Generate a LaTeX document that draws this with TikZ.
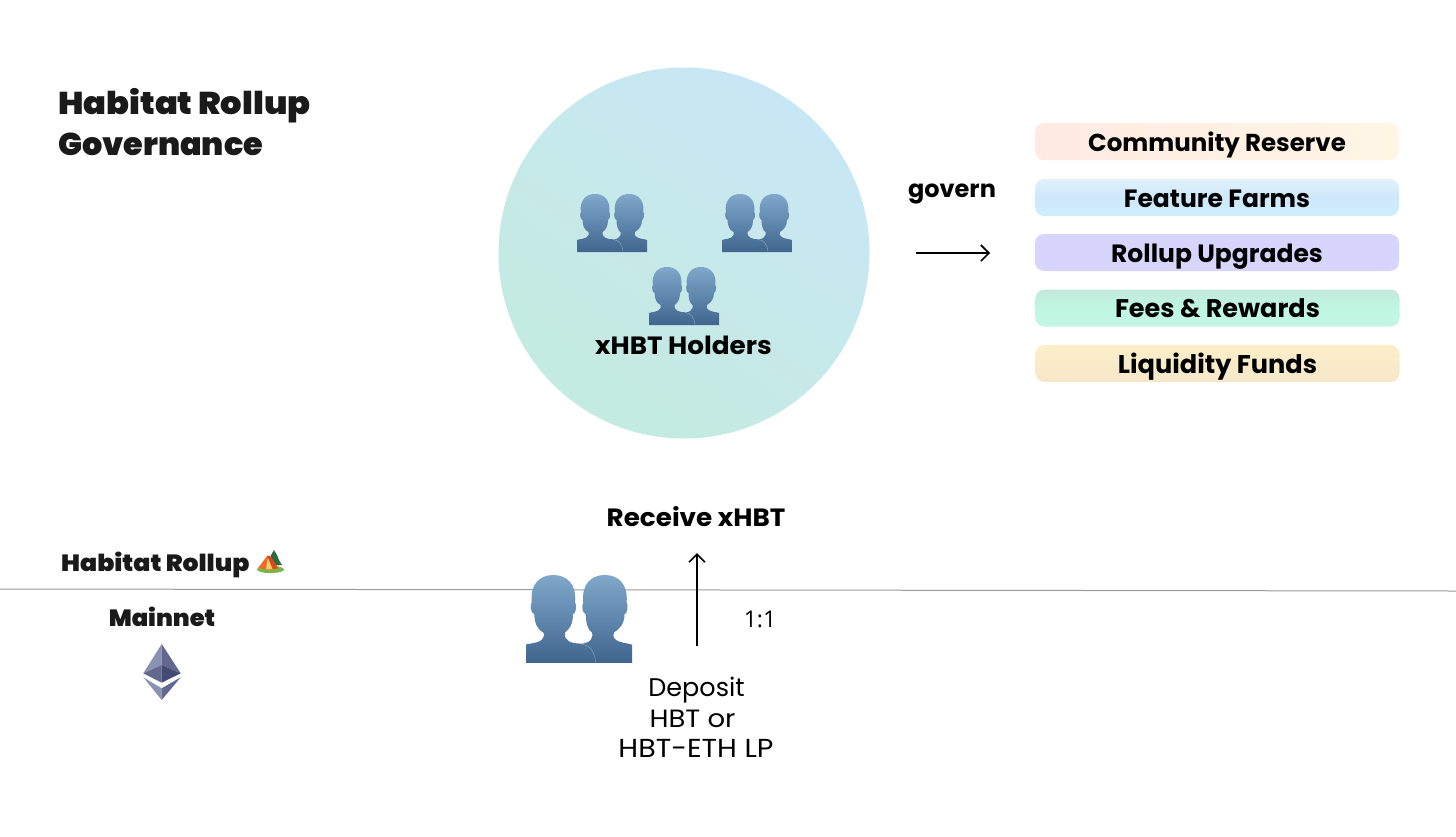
\documentclass[tikz,border=0pt]{standalone}
\usepackage{fontspec}
\usetikzlibrary{arrows.meta}
\setmainfont{Poppins}
\newfontfamily\blkA{Poppins Black}[FakeStretch=1.07]
\newfontfamily\blkB{Poppins Black}[FakeStretch=1.01]
\newfontfamily\blkC{Poppins Black}[FakeStretch=1.03]
\newfontfamily\bld{Poppins}[UprightFont=* Bold]
\newfontfamily\bldw{Poppins}[UprightFont=* Bold,FakeStretch=1.05]
\newfontfamily\reg{Poppins}
\newfontfamily\regw{Poppins}[FakeStretch=1.1]
\newfontfamily\regn{Open Sans}
\definecolor{ink}{HTML}{1A1A1A}
\definecolor{iconTop}{HTML}{7FA8CA}
\definecolor{iconBot}{HTML}{40658E}
\definecolor{c1}{HTML}{C8E7F5}
\definecolor{c2}{HTML}{C4EBDF}
\definecolor{p1a}{HTML}{FFEAE1}
\definecolor{p1b}{HTML}{FFF6E6}
\definecolor{p2a}{HTML}{DFF2FA}
\definecolor{p2m}{HTML}{CEE7FC}
\definecolor{p2b}{HTML}{CDEFFD}
\definecolor{p3}{HTML}{D8D5FC}
\definecolor{p4a}{HTML}{C4E8DB}
\definecolor{p4m}{HTML}{BFF7E3}
\definecolor{p4b}{HTML}{C2F5E3}
\definecolor{p5a}{HTML}{FBEEC8}
\definecolor{p5b}{HTML}{F6E8C9}
\definecolor{linegray}{HTML}{9A9A9A}
\definecolor{tentGreen}{HTML}{7DB446}
\definecolor{treeDark}{HTML}{2F6B3A}
\definecolor{tentOrange}{HTML}{EE6A2C}
\definecolor{tentRed}{HTML}{D9481F}
\definecolor{tentYellow}{HTML}{F6D06A}
\definecolor{eth1}{HTML}{8A92B2}
\definecolor{eth2}{HTML}{62688F}
\definecolor{eth3}{HTML}{454A75}
\tikzset{
  x=1pt,y=-1pt,
  people/.pic={
    \shade[top color=iconTop,bottom color=iconBot]
      (0,58)--(0,46) .. controls (1,45) and (10,45.5) .. (11.5,41)
      .. controls (12,40) and (12,39) .. (11.5,38) .. controls (8,36.5) and (5.5,32) .. (5.5,26)
      .. controls (3,25) and (2.6,20) .. (3.8,18) .. controls (2.6,6) and (9,0) .. (18,0)
      .. controls (27,0) and (33.5,6) .. (32.4,18) .. controls (33.6,20) and (33.2,25) .. (31,26)
      .. controls (31,32) and (29,35.5) .. (25.7,38) .. controls (25,40) and (26,44) .. (32,45)
      -- (46,46) -- (46,58) -- cycle
      (36,58)--(36,45.5) .. controls (40,45) and (43,44) .. (43.5,41)
      .. controls (44,40) and (44,39) .. (43.5,38) .. controls (41,36.5) and (39.5,32) .. (39.5,26)
      .. controls (37,25) and (36.6,20) .. (37.8,18) .. controls (36.6,6) and (43,0) .. (52,0)
      .. controls (61,0) and (67.5,6) .. (66.4,18) .. controls (67.6,20) and (67.2,25) .. (65,26)
      .. controls (65,32) and (62,35.5) .. (58,38) .. controls (57.5,40) and (57.5,41) .. (58.5,42)
      .. controls (61,45) and (68,45) .. (70,46) -- (70,58) -- cycle;
    \draw[white,opacity=.35,line width=.5pt] (36,45.5) .. controls (42,46) and (45,50) .. (46,57.5);
  },
  pill/.style={rounded corners=9pt,minimum width=364pt,minimum height=37pt,inner sep=0pt,
    text height=19pt,text depth=0pt,font=\bld\fontsize{25}{25}\selectfont,text=black},
  lab/.style={inner sep=0pt,anchor=base,text=black},
  arrow/.style={line width=2pt,-{Straight Barb[length=8pt,width=16pt,line width=1.6pt]}},
}
\begin{document}
\begin{tikzpicture}
\useasboundingbox (0,0) rectangle (1456,836);
\fill[white] (0,0) rectangle (1456,836);

% titles
\node[lab,anchor=base west,text=ink,font=\blkA\fontsize{31.5}{31.5}\selectfont] (title1) at (58,114) {Habitat Rollup};
\node[lab,anchor=base west,text=ink,font=\blkB\fontsize{31.5}{31.5}\selectfont] (title2) at (58,155) {Governance};

% circle
\shade[shading=axis,top color=c1,bottom color=c2,shading angle=-35] (684,253) circle (185.5);
\path (577,194) pic {people};
\path (722,194) pic {people};
\path (649,267) pic {people};
\node[lab,font=\bldw\fontsize{25}{25}\selectfont] (holders) at (683.5,354) {xHBT Holders};

% govern
\node[lab,font=\bld\fontsize{24}{24}\selectfont] (govern) at (952,197) {govern};
\coordinate (arrA) at (916,253);
\coordinate (arrB) at (990,253);
\draw[arrow] (arrA) -- (arrB);

% pills
\node[pill,left color=p1a,right color=p1b,font=\bld\fontsize{24.5}{24.5}\selectfont] (reserve) at (1217,141.5) {Community Reserve};
\node[pill,top color=p2a,bottom color=p2b,middle color=p2m] (farms) at (1217,197.5) {Feature Farms};
\node[pill,fill=p3] (upgrades) at (1217,252.5) {Rollup Upgrades};
\node[pill,top color=p4a,bottom color=p4b,middle color=p4m,font=\bld\fontsize{25.5}{25.5}\selectfont] (fees) at (1217.5,308) {Fees \& Rewards};
\node[pill,top color=p5a,bottom color=p5b,font=\bld\fontsize{25.6}{25.6}\selectfont] (funds) at (1217.5,363.5) {Liquidity Funds};

% boundary
\coordinate (lineL) at (0,589);
\coordinate (lineR) at (1456,591);
\draw[color=linegray,line width=1pt] (lineL) -- (lineR);

\node[lab,anchor=base west,text=ink,font=\blkA\fontsize{23.5}{23.5}\selectfont] (rollup) at (61,571) {Habitat Rollup};
\node[lab,text=ink,font=\blkC\fontsize{23.5}{23.5}\selectfont] (mainnet) at (162,626) {Mainnet};

% tent
\fill[tentGreen] (270.5,569.5) ellipse (13.5 and 3.6);
\fill[treeDark] (274,550) -- (277,555) -- (279,560) -- (282,565) -- (270,566) -- (270,560) -- (271,555) -- cycle;
\fill[tentOrange] (258.3,567.7) -- (267.3,555.7) -- (270,556) -- (278.3,568.3) -- (268,570) -- cycle;
\fill[tentRed] (267.3,555.7) -- (270,556) -- (278.3,568.3) -- (272.5,569) -- cycle;
\fill[tentYellow] (266,569.5) -- (267.8,558) -- (272.5,569) -- cycle;

% ethereum
\fill[eth1] (161.7,644) -- (143.3,673.3) -- (161.7,665) -- cycle;
\fill[eth2] (161.7,644) -- (180.7,673.3) -- (161.7,665) -- cycle;
\fill[eth2] (143.3,673.3) -- (161.7,665) -- (161.7,682.7) -- cycle;
\fill[eth3] (180.7,673.3) -- (161.7,665) -- (161.7,682.7) -- cycle;
\fill[eth1] (143.3,677.3) -- (161.7,688.3) -- (161.7,700) -- cycle;
\fill[eth2] (180.7,677.3) -- (161.7,688.3) -- (161.7,700) -- cycle;

% lower person
\path (526,575) pic[transform shape,scale=1.515] {people};

\node[lab,font=\bldw\fontsize{25}{25}\selectfont] (receive) at (696,526) {Receive xHBT};
\coordinate (depTop) at (697,646);
\coordinate (depEnd) at (697,553);
\draw[arrow] (depTop) -- (depEnd);
\node[lab,font=\regn\fontsize{23}{23}\selectfont] (ratio) at (760,627) {1:1};
\node[lab,font=\reg\fontsize{25.5}{25.5}\selectfont] (dep1) at (696.5,696.5) {Deposit};
\node[lab,font=\regw\fontsize{25}{25}\selectfont] (dep2) at (692.5,727) {HBT or};
\node[lab,font=\regw\fontsize{26}{26}\selectfont] (dep3) at (696,757.5) {HBT-ETH LP};
\end{tikzpicture}
\end{document}
